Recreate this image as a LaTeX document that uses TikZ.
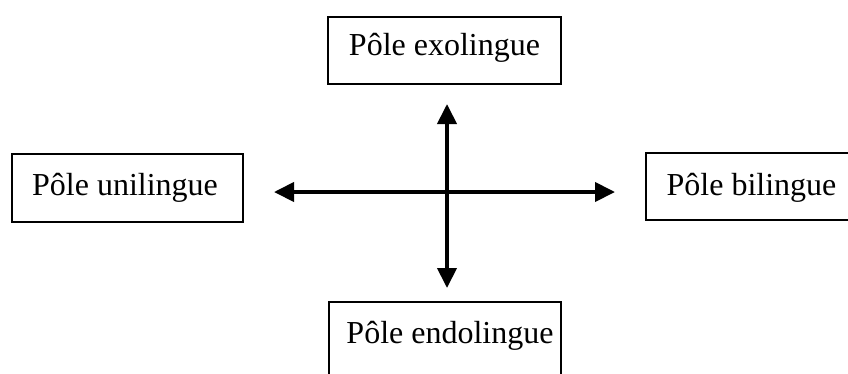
\documentclass[tikz,border=0pt]{standalone}
\usepackage{fontspec}
\setmainfont{Liberation Serif}
\usetikzlibrary{arrows.meta}
\begin{document}
\begin{tikzpicture}[x=1pt,y=1pt,
  box/.style={draw=black, line width=2pt, rectangle, inner sep=0pt},
  lbl/.style={anchor=base, inner sep=0pt, font=\fontsize{32}{38}\selectfont},
  axis/.style={line width=4pt, {Triangle[length=20pt,width=19pt]}-{Triangle[length=20pt,width=19pt]}}]
\clip (0,0) rectangle (848,-373);
\fill[white] (0,0) rectangle (848,-373);
% boxes
\node[box, minimum width=233pt, minimum height=67pt] (topbox) at (444.5,-50.5) {};
\node[box, minimum width=231pt, minimum height=68pt] (leftbox) at (127.5,-188) {};
\node[box, minimum width=211pt, minimum height=67pt] (rightbox) at (751.5,-186.5) {};
\node[box, minimum width=232pt, minimum height=100pt] (botbox) at (445,-352) {};
% labels
\node[lbl] (toplbl) at (444.5,-55) {Pôle exolingue};
\node[lbl] (leftlbl) at (125,-195) {Pôle unilingue};
\node[lbl] (rightlbl) at (751.5,-195) {Pôle bilingue};
\node[lbl] (botlbl) at (450,-343) {Pôle endolingue};
% axes
\coordinate (L) at (274,-192);
\coordinate (R) at (615,-192);
\coordinate (T) at (447,-104);
\coordinate (B) at (447,-288);
\draw[axis] (L) -- (R);
\draw[axis] (T) -- (B);
\end{tikzpicture}
\end{document}
